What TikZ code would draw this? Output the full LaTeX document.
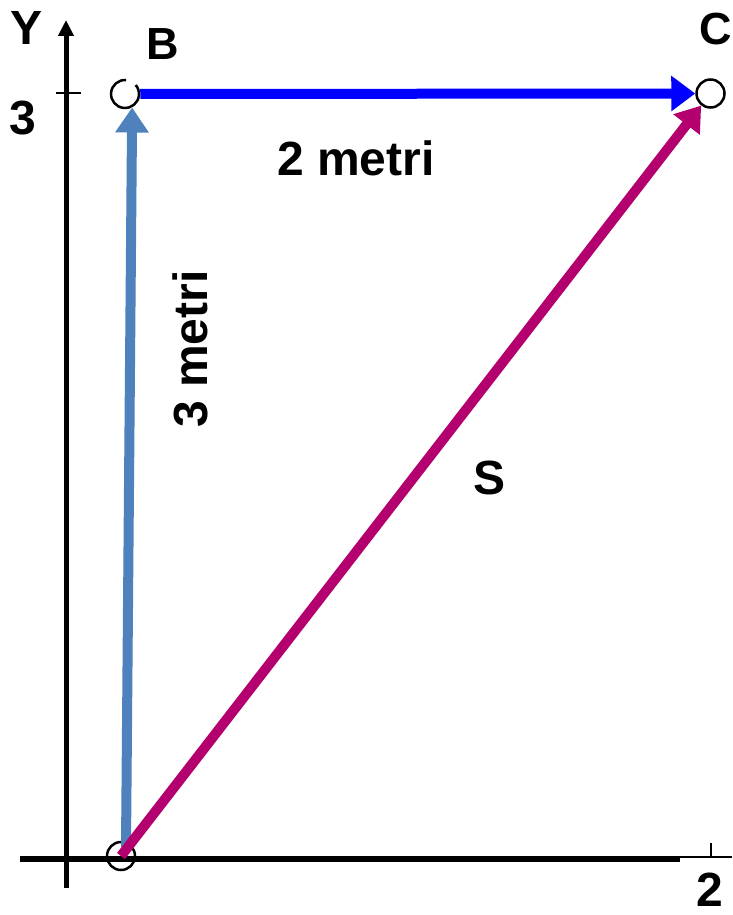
\documentclass[tikz,border=0pt]{standalone}
\usepackage{fontspec}
\setmainfont{Liberation Sans}
\usetikzlibrary{arrows.meta}
\definecolor{steel}{RGB}{79,129,189}
\definecolor{purebl}{RGB}{0,0,255}
\definecolor{mag}{RGB}{180,0,110}
\pgfdeclarelayer{front}
\pgfsetlayers{main,front}
\tikzset{
  lbl/.style={inner sep=0pt, font=\bfseries\fontsize{48}{48}\selectfont},
  lblsm/.style={inner sep=0pt, font=\bfseries\fontsize{45}{45}\selectfont},
  vec/.style={line width=10pt, -{Triangle[length=25pt,width=32pt]}},
  pt/.style={circle, minimum size=28pt, inner sep=0pt, line width=2.5pt},
}
\begin{document}
\begin{tikzpicture}[x=1pt,y=-1pt]
\useasboundingbox[fill=white] (0,0) rectangle (732,915);
% circle nodes on front layer
\begin{pgfonlayer}{front}
  \node[pt, fill=white] (B) at (125,94) {};
  \draw[line width=2.5pt] ([shift={(85:14pt)}]B.center) arc[start angle=85, end angle=400, radius=14pt];
  \node[pt, fill=white, draw] (C) at (710.5,93.5) {};
\end{pgfonlayer}
% axes
\coordinate (yb) at (66,888);
\coordinate (yt) at (66,20);
\coordinate (xl) at (20,859);
\coordinate (xm) at (680,859);
\coordinate (xr) at (732,857);
\coordinate (t3a) at (56,93);
\coordinate (t3b) at (81,93);
\coordinate (t2a) at (711,843);
\coordinate (t2b) at (711,857);
\draw[line width=5pt, -{Triangle[length=16pt,width=15pt]}] (yb) -- (yt);
\draw[line width=6pt] (xl) -- (xm);
\draw[line width=1.5pt] (xm |- xr) -- (xr);
\draw[line width=2pt] (t3a) -- (t3b);
\draw[line width=1.5pt] (t2a) -- (t2b);
% origin circle
\node[pt, draw] (O) at (121,856) {};
% vectors
\coordinate (sb) at (126,847);
\draw[vec, steel] (sb) -- (B.-62);
\draw[vec, purebl, -{Triangle[length=24pt,width=34pt]}] (B) -- (C);
\draw[vec, mag, -{Triangle[length=24pt,width=32pt]}] (O.center) -- (C);
% labels
\node[lbl] (ly) at (27,28) {Y};
\node[lbl] (l3) at (23,118) {3};
\node[lblsm] (lb) at (163,44) {B};
\node[lblsm] (lc) at (716,29) {C};
\node[lbl] (l2) at (710,890) {2};
\node[lbl] (m2) at (356,158) {2 metri};
\node[lbl, rotate=90] (m3) at (190,349) {3 metri};
\node[lbl] (ls) at (490,478) {S};
\end{tikzpicture}
\end{document}
